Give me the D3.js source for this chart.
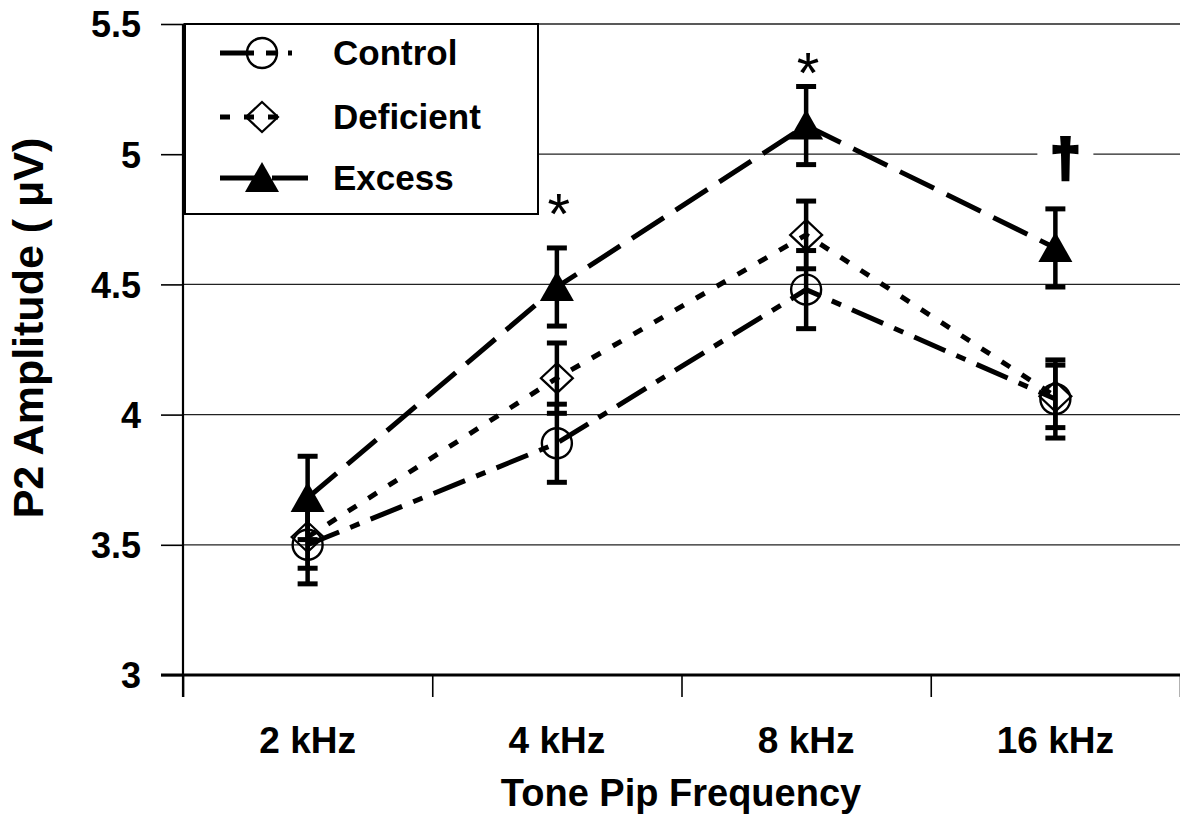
<!DOCTYPE html>
<html lang="en">
<head>
  <meta charset="utf-8">
  <title>P2 Amplitude by Tone Pip Frequency</title>
  <script src="https://d3js.org/d3.v7.min.js"></script>
  <style>
    body { margin: 0; background: #fff; }
    #chart text { font-family: "Liberation Sans", Arial, sans-serif; font-weight: bold; fill: #000; }
  </style>
</head>
<body>
  <div id="chart"></div>

  <script type="text/javascript">
    "use strict"
    // values
    var categories = ["2 kHz", "4 kHz", "8 kHz", "16 kHz"];
    var controlMean = [3.50, 3.89, 4.48, 4.06];
    var controlErr = [0.15, 0.15, 0.15, 0.15];
    var deficientMean = [3.53, 4.14, 4.69, 4.07];
    var deficientErr = [0.12, 0.135, 0.13, 0.12];
    var excessMean = [3.68, 4.49, 5.11, 4.64];
    var excessErr = [0.16, 0.15, 0.15, 0.15];
    var yTicks = [3, 3.5, 4, 4.5, 5, 5.5];
    var seriesNames = ["Control", "Deficient", "Excess"];
    // significance marks: category, symbol, value (height) where it sits
    var markCats = ["4 kHz", "8 kHz", "16 kHz"];
    var markSyms = ["*", "*", "\u2020"];
    var markVals = [4.82, 5.36, 4.98];

    var W = 1180, H = 818;
    var margin = {top: 24, right: 0, bottom: 143, left: 183};

    var svg = d3.select('#chart').append('svg')
      .attr('width', W)
      .attr('height', H);

    var x = d3.scaleBand().domain(categories).range([margin.left, W - margin.right]);
    var xEdge = d3.scaleLinear().domain([0, categories.length]).range([margin.left, W - margin.right]);
    var y = d3.scaleLinear().domain([3, 5.5]).range([H - margin.bottom, margin.top]);

    // gridlines
    svg.append('g')
      .selectAll('line')
      .data(yTicks.filter(d => d > 3))
      .enter().append('line')
        .attr('x1', margin.left).attr('x2', W)
        .attr('y1', d => y(d)).attr('y2', d => y(d))
        .attr('stroke', '#222').attr('stroke-width', 1.3);

    // y axis
    var yAxis = svg.append('g')
      .attr('transform', 'translate(' + margin.left + ',0)')
      .call(d3.axisLeft(y).tickValues(yTicks).tickSize(22).tickPadding(20).tickFormat(d => String(d)));
    yAxis.select('.domain').remove();
    yAxis.selectAll('.tick line').attr('stroke', '#000').attr('stroke-width', 1.6);
    yAxis.selectAll('.tick text').style('font-size', '36px').attr('dy', '0.36em');
    svg.append('line')
      .attr('x1', margin.left).attr('x2', margin.left)
      .attr('y1', y(5.5)).attr('y2', y(3) + 22)
      .attr('stroke', '#000').attr('stroke-width', 2.2);

    // x axis: ticks at the band edges, labels at centres
    var xTickG = svg.append('g')
      .attr('transform', 'translate(0,' + y(3) + ')')
      .call(d3.axisBottom(xEdge).tickValues(d3.range(categories.length + 1)).tickSize(22).tickFormat(''));
    xTickG.select('.domain').remove();
    xTickG.selectAll('.tick line').attr('stroke', '#000').attr('stroke-width', 1.6);
    svg.append('line')
      .attr('x1', margin.left - 22).attr('x2', W)
      .attr('y1', y(3)).attr('y2', y(3))
      .attr('stroke', '#000').attr('stroke-width', 3);
    var xLab = svg.append('g')
      .attr('transform', 'translate(0,' + y(3) + ')')
      .call(d3.axisBottom(x).tickSize(0).tickPadding(0));
    xLab.select('.domain').remove();
    xLab.selectAll('.tick text').style('font-size', '37px').attr('y', 78).attr('dy', 0);

    // axis titles
    svg.append('text')
      .attr('x', 681).attr('y', 806)
      .attr('text-anchor', 'middle')
      .style('font-size', '38px')
      .text('Tone Pip Frequency');
    svg.append('text')
      .attr('transform', 'translate(43,' + 328 + ') rotate(-90)')
      .attr('text-anchor', 'middle')
      .style('font-size', '43px')
      .text('P2 Amplitude ( \u03BCV)');

    var dashes = {Control: '34,12,10,12', Deficient: '10,14', Excess: '38,14'};
    var allSeries = [
      {name: 'Control', mean: controlMean, err: controlErr},
      {name: 'Deficient', mean: deficientMean, err: deficientErr},
      {name: 'Excess', mean: excessMean, err: excessErr}
    ];

    function drawMarker(g, name, cx, cy) {
      if (name == 'Control') {
        g.append('circle').attr('cx', cx).attr('cy', cy).attr('r', 15)
          .attr('fill', 'none').attr('stroke', '#000').attr('stroke-width', 2.4);
      } else if (name == 'Deficient') {
        g.append('path')
          .attr('d', 'M' + cx + ',' + (cy - 15) + 'L' + (cx + 16) + ',' + cy + 'L' + cx + ',' + (cy + 15) + 'L' + (cx - 16) + ',' + cy + 'Z')
          .attr('fill', 'none').attr('stroke', '#000').attr('stroke-width', 2.2);
      } else {
        g.append('path')
          .attr('d', 'M' + cx + ',' + (cy - 16) + 'L' + (cx + 17) + ',' + (cy + 14) + 'L' + (cx - 17) + ',' + (cy + 14) + 'Z')
          .attr('fill', '#000');
      }
    }

    var line = d3.line()
      .x((d, i) => x.bandwidth() / 2 + x(categories[i]))
      .y(d => y(d));

    allSeries.forEach(function (s) {
      var g = svg.append('g');
      // error bars
      s.mean.forEach(function (m, i) {
        var cx = x(categories[i]) + x.bandwidth() / 2;
        g.append('line')
          .attr('x1', cx).attr('x2', cx)
          .attr('y1', y(m - s.err[i])).attr('y2', y(m + s.err[i]))
          .attr('stroke', '#000').attr('stroke-width', 4.5);
        [m - s.err[i], m + s.err[i]].forEach(function (v) {
          g.append('line')
            .attr('x1', cx - 10).attr('x2', cx + 10)
            .attr('y1', y(v)).attr('y2', y(v))
            .attr('stroke', '#000').attr('stroke-width', 5);
        });
      });
      g.append('path')
        .datum(s.mean)
        .attr('d', line)
        .attr('fill', 'none')
        .attr('stroke', '#000')
        .attr('stroke-width', 5)
        .attr('stroke-dasharray', dashes[s.name]);
      s.mean.forEach(function (m, i) {
        drawMarker(g, s.name, x(categories[i]) + x.bandwidth() / 2, y(m));
      });
    });

    // significance marks
    markCats.forEach(function (c, i) {
      var cx = x(c) + x.bandwidth() / 2;
      if (markSyms[i] == '*') {
        svg.append('text')
          .attr('x', cx + 2).attr('y', y(markVals[i]) + 33)
          .attr('text-anchor', 'middle')
          .style('font-size', '58px').style('font-weight', 'normal')
          .text('*');
      } else {
        svg.append('rect')
          .attr('x', cx - 18).attr('y', y(markVals[i]) - 26)
          .attr('width', 56).attr('height', 50)
          .attr('fill', '#fff');
        svg.append('text')
          .attr('x', cx + 10).attr('y', y(markVals[i]) + 17)
          .attr('text-anchor', 'middle')
          .style('font-size', '52px')
          .style('stroke', '#000').style('stroke-width', 4).style('stroke-linejoin', 'miter')
          .text(markSyms[i]);
      }
    });

    // legend
    var leg = svg.append('g');
    leg.append('rect')
      .attr('x', 185).attr('y', y(5.5))
      .attr('width', 353).attr('height', 190)
      .attr('fill', '#fff').attr('stroke', '#000').attr('stroke-width', 2);
    var legRows = [53, 117, 178];
    seriesNames.forEach(function (n, i) {
      var ly = legRows[i];
      leg.append('line')
        .attr('x1', 220).attr('x2', n == 'Excess' ? 308 : 292)
        .attr('y1', ly).attr('y2', ly)
        .attr('stroke', '#000').attr('stroke-width', 5)
        .attr('stroke-dasharray', dashes[n]);
      drawMarker(leg, n, 262, ly);
      leg.append('text')
        .attr('x', 333).attr('y', ly + 12)
        .style('font-size', '35px')
        .text(n);
    });
  </script>
</body>
</html>
